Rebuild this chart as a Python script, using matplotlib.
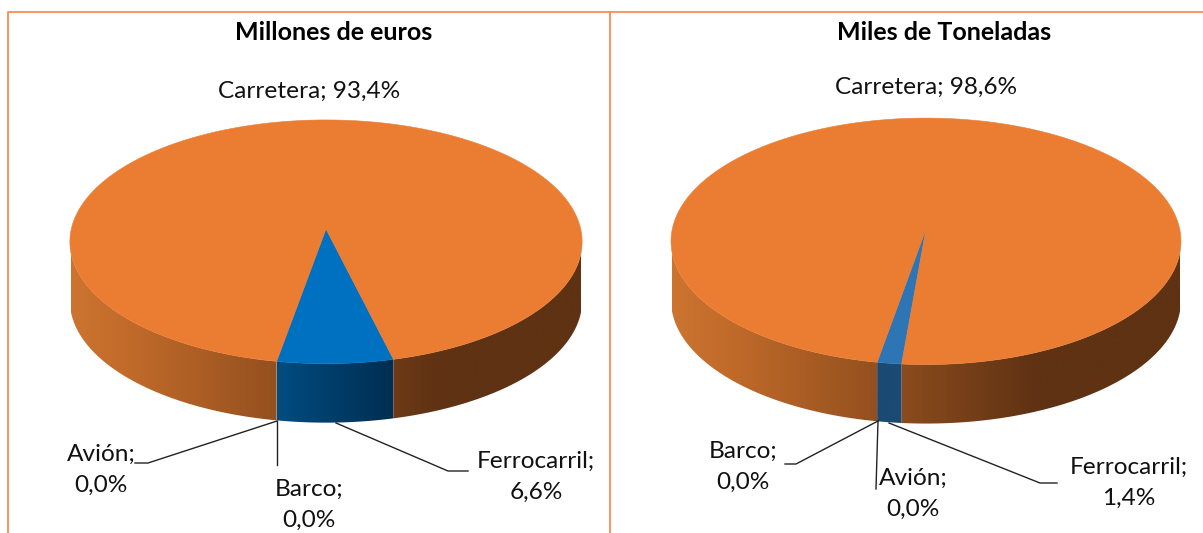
import numpy as np
import matplotlib
matplotlib.use('Agg')
import matplotlib.pyplot as plt
from matplotlib.colors import LinearSegmentedColormap
from matplotlib.patches import Polygon

plt.rcParams['font.family'] = ['Lato', 'DejaVu Sans']

# data
titulo_euros = 'Millones de euros'
titulo_ton = 'Miles de Toneladas'
modos_euros = ['Barco', 'Avión', 'Ferrocarril', 'Carretera']
modos_ton = ['Avión', 'Barco', 'Ferrocarril', 'Carretera']
valores_euros = [0.0, 0.0, 6.6, 93.4]
valores_ton = [0.0, 0.0, 1.4, 98.6]

ANGULO_INICIO = -10.0   # first slice angle, measured from the front of the pie
TEXT_COLOR = '#111111'
FRAME_COLOR = '#F58E50'
ORANGE = '#EB7D33'

orange_wall = LinearSegmentedColormap.from_list('w_or', [
    (0.0, '#CC7430'), (0.12, '#C06A2A'), (0.4, '#94501F'), (0.72, '#5F3213'), (1.0, '#5F3213')])
blue_wall_1 = LinearSegmentedColormap.from_list('w_b1', ['#004C80', '#002E52'])
blue_wall_2 = LinearSegmentedColormap.from_list('w_b2', ['#1B4A73', '#1B4A73'])


def rim(theta, p):
    # perspective view of the pie rim, theta in degrees from the front
    t = np.radians(theta)
    w = 1 - p['k'] * np.cos(t)
    return p['cx'] + p['b'] * np.sin(t) / w, p['cy'] + p['a'] * np.cos(t) / w


def draw_pie(ax, valores, modos, p, top_blue, wall_blue):
    limit = np.degrees(np.arccos(p['k']))
    x0 = p['cx'] - p['b']
    x1 = p['cx'] + p['b']
    ang = ANGULO_INICIO
    for modo, val in zip(modos, valores):
        span = val * 3.6
        if span == 0:
            continue
        top = ORANGE if modo == 'Carretera' else top_blue
        th = np.linspace(ang, ang + span, 300)
        xs, ys = rim(th, p)
        ax.add_patch(Polygon(np.r_[[[p['cx'], p['cy']]], np.c_[xs, ys]], closed=True,
                             fc=top, ec=top, lw=0.4, zorder=4))

        # the part of the slice wall that faces the viewer
        pieces = [(ang, min(ang + span, limit))]
        if ang + span > 360 - limit:
            pieces.append((360 - limit, ang + span))
        for a0, a1 in pieces:
            if a1 <= a0:
                continue
            th = np.linspace(a0, a1, 300)
            xs, ys = rim(th, p)
            outline = np.r_[np.c_[xs, ys], np.c_[xs, ys + p['depth']][::-1]]
            clip = Polygon(outline, closed=True, fc='none', ec='none', transform=ax.transData)
            ax.add_patch(clip)
            if modo == 'Carretera':
                grad = np.linspace(0, 1, 512).reshape(1, -1)
                im = ax.imshow(grad, cmap=orange_wall, extent=[x0, x1, 533, 0], aspect='auto',
                               vmin=0, vmax=1, zorder=3)
            else:
                grad = np.linspace(0, 1, 64).reshape(1, -1)
                im = ax.imshow(grad, cmap=wall_blue, extent=[xs.min(), xs.max(), 533, 0],
                               aspect='auto', vmin=0, vmax=1, zorder=3)
            im.set_clip_path(clip)
        ang += span


def etiqueta(modo, val):
    return f'{modo};\n{val:.1f}%'.replace('.', ',')


fig = plt.figure(figsize=(12.03, 5.33), dpi=100)
ax = fig.add_axes([0, 0, 1, 1])

pie_1 = dict(cx=326, cy=229, a=120.5, b=254.7, k=0.105, depth=59)
pie_2 = dict(cx=926, cy=229, a=122, b=253.7, k=0.10, depth=59)
draw_pie(ax, valores_euros, modos_euros, pie_1, '#0070C0', blue_wall_1)
draw_pie(ax, valores_ton, modos_ton, pie_2, '#2E75B6', blue_wall_2)

ax.set_xlim(0, 1203)
ax.set_ylim(533, 0)
ax.axis('off')

# frame
ax.plot([8, 8, 1203], [533, 12, 12], color=FRAME_COLOR, lw=1.3, zorder=6)
ax.plot([610, 610], [12, 533], color=FRAME_COLOR, lw=1.3, zorder=6)

# leader lines
leaders = [
    ([135, 148, 277], [463, 463, 421]),
    ([277, 277], [421, 465]),
    ([336, 448, 468], [423, 471, 471]),
    ([785, 796, 878], [464, 464, 421]),
    ([876, 878], [489, 421]),
    ([889, 1040, 1057], [423, 483, 483]),
]
for lx, ly in leaders:
    ax.plot(lx, ly, color='#222222', lw=1.0, zorder=6)

FS = 17.6
tx = dict(ha='center', va='center', color=TEXT_COLOR, fontsize=FS, linespacing=1.58, zorder=7)
ax.text(334, 33, titulo_euros, ha='center', va='center', color='black', fontsize=18, fontweight='bold')
ax.text(944, 33, titulo_ton, ha='center', va='center', color='black', fontsize=18, fontweight='bold')

ax.text(309, 91, f'Carretera; {valores_euros[3]:.1f}%'.replace('.', ','), **tx)
ax.text(101, 470, etiqueta('Avión', valores_euros[1]), **tx)
ax.text(309, 505, etiqueta('Barco', valores_euros[0]), **tx)
ax.text(536, 477, etiqueta('Ferrocarril', valores_euros[2]), **tx)

ax.text(926, 87, f'Carretera; {valores_ton[3]:.1f}%'.replace('.', ','), **tx)
ax.text(743, 467, etiqueta('Barco', valores_ton[1]), **tx)
ax.text(913, 494, etiqueta('Avión', valores_ton[0]), **tx)
ax.text(1129, 483, etiqueta('Ferrocarril', valores_ton[2]), **tx)

fig.savefig('out.png', dpi=100)
